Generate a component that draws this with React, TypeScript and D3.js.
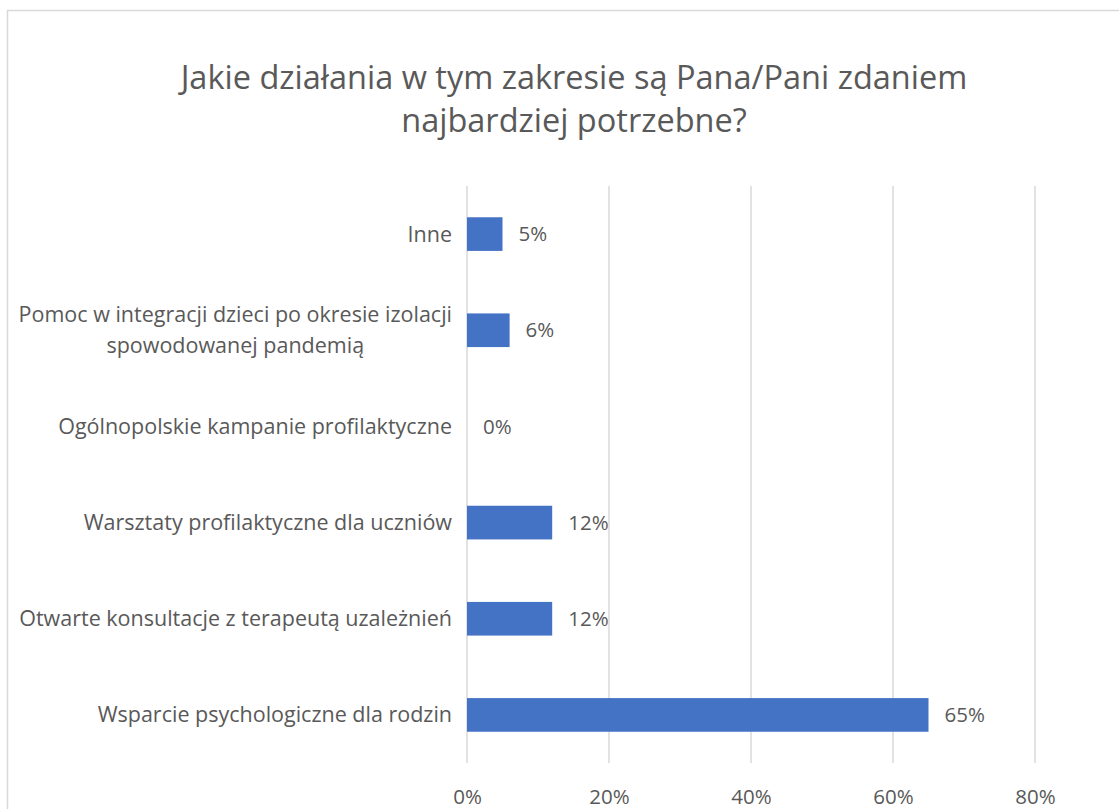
import * as React from "react";
import * as d3 from "d3";

const categories: string[] = [
    "Inne",
    "Pomoc w integracji dzieci po okresie izolacji|spowodowanej pandemią",
    "Ogólnopolskie kampanie profilaktyczne",
    "Warsztaty profilaktyczne dla uczniów",
    "Otwarte konsultacje z terapeutą uzależnień",
    "Wsparcie psychologiczne dla rodzin"
];
const values: number[] = [0.05, 0.06, 0, 0.12, 0.12, 0.65];
const xTicks: number[] = [0, 0.2, 0.4, 0.6, 0.8];
const titleLines: string[] = [
    "Jakie działania w tym zakresie są Pana/Pani zdaniem",
    "najbardziej potrzebne?"
];

const W: number = 1119;
const H: number = 809;
const textColor: string = "#595959";
const gridColor: string = "#d9d9d9";
const barColor: string = "#4472c4";
const font: string = "'Open Sans', sans-serif";
const labelSize: number = 21.5;
const numSize: number = 20.5;

const margin = { top: 186, right: 84, bottom: 46, left: 467 };

export default function App(): JSX.Element {
    const ref = React.useRef<SVGSVGElement>(null);

    React.useEffect(() => {
        const svg = d3.select(ref.current);
        svg.selectAll("*").remove();

        svg.append("rect")
            .attr("width", W).attr("height", H).attr("fill", "white");
        // chart area border (cropped on the right and bottom)
        svg.append("rect")
            .attr("x", 7.5).attr("y", 10.5)
            .attr("width", W + 20).attr("height", H + 20)
            .attr("fill", "none").attr("stroke", gridColor).attr("stroke-width", 1.5);

        const title = svg.append("text")
            .attr("text-anchor", "middle")
            .attr("font-family", font)
            .attr("font-size", 32.5)
            .attr("fill", textColor);
        titleLines.forEach((line: string, i: number) => {
            title.append("tspan")
                .attr("x", 574)
                .attr("y", 89 + i * 43)
                .text(line);
        });

        const x = d3.scaleLinear()
            .domain([0, 0.8])
            .range([margin.left, W - margin.right]);
        const y = d3.scaleBand<string>()
            .domain(categories)
            .range([margin.top, H - margin.bottom])
            .paddingInner(0.65)
            .paddingOuter(0.325);

        const grid = svg.append("g");
        grid.selectAll("line")
            .data(xTicks).enter().append("line")
            .attr("x1", (d: number) => x(d)).attr("x2", (d: number) => x(d))
            .attr("y1", margin.top).attr("y2", H - margin.bottom)
            .attr("stroke", gridColor).attr("stroke-width", 1.5);

        const xAxis = d3.axisBottom(x)
            .tickValues(xTicks)
            .tickSize(0)
            .tickPadding(26)
            .tickFormat(d3.format(".0%"));
        const xG = svg.append("g")
            .attr("transform", `translate(0, ${H - margin.bottom})`)
            .call(xAxis);
        xG.select(".domain").remove();
        xG.selectAll("text")
            .attr("font-family", font)
            .attr("font-size", numSize)
            .attr("fill", textColor);

        svg.append("g").selectAll("rect")
            .data(values).enter().append("rect")
            .attr("x", x(0))
            .attr("y", (_d: number, i: number) => y(categories[i]))
            .attr("width", (d: number) => x(d) - x(0))
            .attr("height", y.bandwidth())
            .attr("fill", barColor);

        svg.append("g").selectAll("text")
            .data(values).enter().append("text")
            .attr("x", (d: number) => x(d) + 16)
            .attr("y", (_d: number, i: number) => y(categories[i]) + y.bandwidth() / 2)
            .attr("dy", "0.35em")
            .attr("font-family", font)
            .attr("font-size", numSize)
            .attr("fill", textColor)
            .text((d: number) => d3.format(".0%")(d));

        // category labels, wrapped lines centred under the first one
        const labelX: number = x(0) - 15;
        categories.forEach((c: string, i: number) => {
            const lines: string[] = c.split("|");
            const cy: number = y(c) + y.bandwidth() / 2;
            const t = svg.append("text")
                .attr("font-family", font)
                .attr("font-size", labelSize)
                .attr("fill", textColor)
                .attr("text-anchor", "end");
            const first = t.append("tspan")
                .attr("x", labelX)
                .attr("y", cy - (lines.length - 1) * 15.5)
                .attr("dy", "0.35em")
                .text(lines[0]);
            if (lines.length > 1) {
                const w: number = (first.node() as SVGTSpanElement).getComputedTextLength();
                svg.append("text")
                    .attr("font-family", font)
                    .attr("font-size", labelSize)
                    .attr("fill", textColor)
                    .attr("text-anchor", "middle")
                    .attr("x", labelX - w / 2)
                    .attr("y", cy + 15.5)
                    .attr("dy", "0.35em")
                    .text(lines[1]);
            }
        });
    }, []);

    return <div style={{ position: "absolute", left: 0, top: 0 }}>
        <svg ref={ref} width={W} height={H} style={{ display: "block" }} />
    </div>;
}
